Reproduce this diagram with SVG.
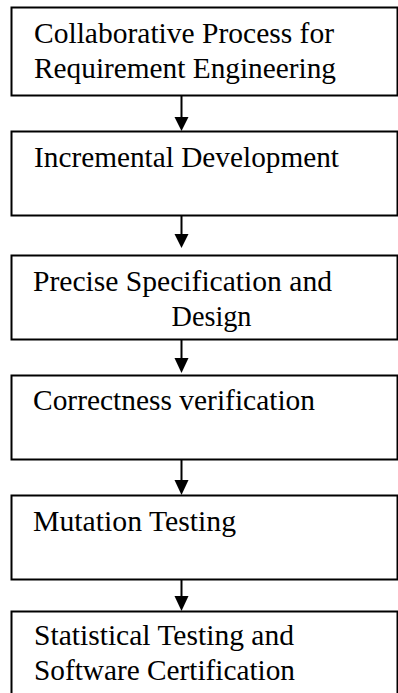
<svg xmlns="http://www.w3.org/2000/svg" width="398" height="693" viewBox="0 0 398 693">
<style>
.box{fill:#fff;stroke:#000;stroke-width:2}
.t{font-family:"Liberation Serif","Times New Roman",serif;font-size:29px;fill:#000}
.conn{stroke:#000;stroke-width:2;fill:none}
.head{fill:#000;stroke:none}
</style>
<rect width="398" height="693" fill="#fff"/>
<g id="n1"><rect class="box" x="11.5" y="7.5" width="386" height="88"/>
<text class="t" x="34" y="43" textLength="300" lengthAdjust="spacingAndGlyphs">Collaborative Process for</text>
<text class="t" x="34" y="77.5" textLength="302" lengthAdjust="spacingAndGlyphs">Requirement Engineering</text></g>
<g id="n2"><rect class="box" x="11.5" y="131.5" width="386" height="84"/>
<text class="t" x="34" y="166.7" textLength="305" lengthAdjust="spacingAndGlyphs">Incremental Development</text></g>
<g id="n3"><rect class="box" x="11.5" y="255.5" width="386" height="84"/>
<text class="t" x="33" y="290.7" textLength="299" lengthAdjust="spacingAndGlyphs">Precise Specification and</text>
<text class="t" x="171.5" y="325.7" textLength="80" lengthAdjust="spacingAndGlyphs">Design</text></g>
<g id="n4"><rect class="box" x="11.5" y="375.5" width="386" height="84"/>
<text class="t" x="33" y="410" textLength="282" lengthAdjust="spacingAndGlyphs">Correctness verification</text></g>
<g id="n5"><rect class="box" x="11.5" y="495.5" width="386" height="84"/>
<text class="t" x="33" y="530.7" textLength="203" lengthAdjust="spacingAndGlyphs">Mutation Testing</text></g>
<g id="n6"><rect class="box" x="11.5" y="611.5" width="386" height="90"/>
<text class="t" x="34" y="645" textLength="260" lengthAdjust="spacingAndGlyphs">Statistical Testing and</text>
<text class="t" x="34" y="680" textLength="261" lengthAdjust="spacingAndGlyphs">Software Certification</text></g>
<g id="connectors">
<line class="conn" x1="181.5" y1="96" x2="181.5" y2="118"/><polygon class="head" points="174.5,117 188.5,117 181.5,131"/>
<line class="conn" x1="181.5" y1="216" x2="181.5" y2="235"/><polygon class="head" points="174.5,234 188.5,234 181.5,248"/>
<line class="conn" x1="181.5" y1="340" x2="181.5" y2="359"/><polygon class="head" points="174.5,358 188.5,358 181.5,373"/>
<line class="conn" x1="181.5" y1="460" x2="181.5" y2="481"/><polygon class="head" points="174.5,480 188.5,480 181.5,495"/>
<line class="conn" x1="181.5" y1="580" x2="181.5" y2="597"/><polygon class="head" points="174.5,596 188.5,596 181.5,611"/>
</g>
</svg>
